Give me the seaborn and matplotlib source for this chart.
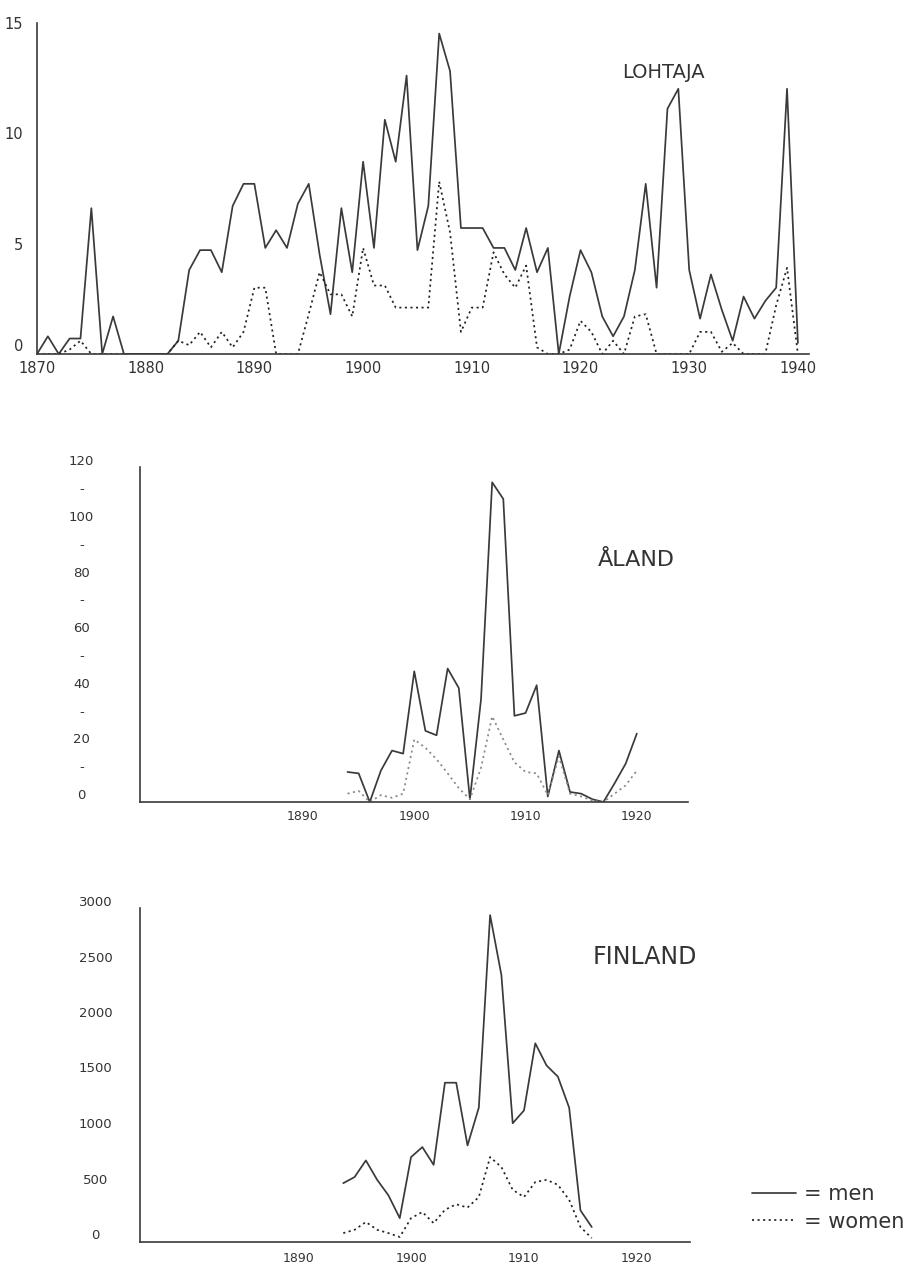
import numpy as np
import pandas as pd
import matplotlib
matplotlib.use("Agg")
import matplotlib.pyplot as plt
import seaborn as sns

# Emigrants per year
lohtaja_years = list(range(1870, 1941))
lohtaja_men = [0, 0.8, 0, 0.7, 0.7, 6.6, 0, 1.7, 0, 0,
               0, 0, 0, 0.6, 3.8, 4.7, 4.7, 3.7, 6.7, 7.7,
               7.7, 4.8, 5.6, 4.8, 6.8, 7.7, 4.5, 1.8, 6.6, 3.7,
               8.7, 4.8, 10.6, 8.7, 12.6, 4.7, 6.7, 14.5, 12.8, 5.7,
               5.7, 5.7, 4.8, 4.8, 3.8, 5.7, 3.7, 4.8, 0, 2.6,
               4.7, 3.7, 1.7, 0.8, 1.7, 3.8, 7.7, 3.0, 11.1, 12.0,
               3.8, 1.6, 3.6, 2.0, 0.6, 2.6, 1.6, 2.4, 3.0, 12.0,
               0.5]
lohtaja_women = [0, 0, 0, 0.2, 0.6, 0, 0, 0, 0, 0,
                 0, 0, 0, 0.6, 0.4, 1.0, 0.3, 1.0, 0.3, 1.0,
                 3.0, 3.0, 0, 0, 0, 1.8, 3.7, 2.7, 2.7, 1.7,
                 4.8, 3.1, 3.1, 2.1, 2.1, 2.1, 2.1, 7.8, 5.5, 1.0,
                 2.1, 2.1, 4.6, 3.6, 3.0, 4.0, 0.3, 0, 0, 0.2,
                 1.5, 1.0, 0, 0.6, 0, 1.7, 1.8, 0, 0, 0,
                 0, 1.0, 1.0, 0.1, 0.5, 0, 0, 0, 2.2, 3.9,
                 0]

aland_years = list(range(1894, 1921))
aland_men = [10.8, 10.3, 0, 11.3, 18.5, 17.4, 47, 25.6, 24, 48,
             41, 1, 37, 115, 109, 31, 32, 42, 2, 18.5,
             3.6, 3, 1, 0, 6.7, 13.8, 24.6]
aland_women = [3, 4, 0, 2.5, 1.5, 3, 22.5, 19.5, 15.4, 10.3,
               5, 1, 12.3, 30.8, 22.5, 14.3, 10.8, 10.3, 2.5, 16.4,
               3, 2, 0.5, 0, 3, 6, 11.3]

finland_years = list(range(1894, 1917))
finland_men = [530, 585, 735, 560, 420, 215, 765, 855, 695, 1435,
               1435, 870, 1210, 2945, 2405, 1070, 1185, 1790, 1590, 1490,
               1210, 285, 135]
finland_women = [80, 110, 180, 110, 80, 45, 215, 270, 170, 290,
                 340, 310, 405, 765, 675, 470, 405, 540, 560, 515,
                 380, 135, 35]

sns.set_style("white")
plt.rcParams["font.family"] = ["DejaVu Sans"]
INK = "#3a3a3a"

W, H = 919, 1270
fig = plt.figure(figsize=(W / 100, H / 100), dpi=100)


def box(left, right, bottom, top):
    """Axes rectangle from pixel edges (top-left origin)."""
    return [left / W, 1 - bottom / H, (right - left) / W, (bottom - top) / H]


def draw(ax, years, men, women, women_color):
    n = len(years)
    df = pd.DataFrame({
        "year": years + years,
        "count": men + women,
        "sex": ["men"] * n + ["women"] * n,
    })
    sns.lineplot(data=df, x="year", y="count", hue="sex", style="sex",
                 palette={"men": INK, "women": women_color},
                 dashes={"men": "", "women": (1.2, 2.0)},
                 estimator=None, sort=False, legend=False,
                 linewidth=1.25, ax=ax)
    sns.despine(ax=ax)
    for side in ("left", "bottom"):
        ax.spines[side].set_color(INK)
        ax.spines[side].set_linewidth(1.2)
    ax.set_xlabel("")
    ax.set_ylabel("")
    ax.set_facecolor("none")


# --- Lohtaja ---
ax1 = fig.add_axes(box(37, 37 + 71.5 * 10.87, 354, 354 - 15.2 * 22.1))
draw(ax1, lohtaja_years, lohtaja_men, lohtaja_women, "#222222")
ax1.set_xlim(1870, 1941.5)
ax1.set_ylim(0, 15.2)
ax1.spines["left"].set_bounds(0, 15)
ax1.spines["bottom"].set_bounds(1870, 1941)
ax1.set_xticks(range(1870, 1941, 10))
ax1.set_yticks([0, 5, 10, 15])
ax1.set_yticks(range(0, 16), minor=True)
ax1.tick_params(axis="both", which="major", direction="inout", length=6,
                width=1, color=INK, labelsize=10.5, labelcolor="#333333")
ax1.tick_params(axis="x", pad=2)
ax1.tick_params(axis="y", which="major", pad=7)
ax1.tick_params(axis="y", which="minor", direction="inout", length=3,
                width=0.8, color=INK)
ax1.get_yticklabels()[0].set_va("bottom")
fig.text(663 / W, 1 - 72 / H, "LOHTAJA", ha="center", va="center",
         fontsize=14, color="#333333")

# --- Åland ---
ax2 = fig.add_axes(box(140, 688, 802, 802 - 122 * 2.78))
draw(ax2, aland_years, aland_men, aland_women, "#8a8a8a")
ax2.set_xlim(1875.35, 1924.6)
ax2.set_ylim(0, 122)
ax2.spines["left"].set_bounds(0, 120.5)
ax2.set_xticks([1890, 1900, 1910, 1920])
ax2.set_yticks(range(0, 121, 20))
ax2.set_yticks(range(10, 120, 20), minor=True)
ax2.set_yticklabels(["-"] * 6, minor=True)
ax2.tick_params(axis="x", direction="inout", length=5, width=1, color=INK,
                labelsize=9, labelcolor="#333333", pad=3)
ax2.tick_params(axis="y", which="both", length=0, pad=42, labelsize=9.5,
                labelcolor="#333333")
for lab in ax2.get_yticklabels() + ax2.get_yticklabels(minor=True):
    lab.set_ha("center")
    lab.set_va("bottom")
fig.text(636 / W, 1 - 560 / H, "ÅLAND", ha="center", va="center",
         fontsize=16, color="#333333")

# --- Finland ---
ax3 = fig.add_axes(box(140, 690, 1242, 1242 - 3100 * 0.111))
draw(ax3, finland_years, finland_men, finland_women, "#222222")
ax3.set_xlim(1876.0, 1924.7)
ax3.set_ylim(0, 3100)
ax3.spines["left"].set_bounds(0, 3009)
ax3.set_xticks([1890, 1900, 1910, 1920])
ax3.set_yticks(range(0, 3001, 500))
ax3.tick_params(axis="x", direction="inout", length=5, width=1, color=INK,
                labelsize=9, labelcolor="#333333", pad=5)
ax3.tick_params(axis="y", length=0, pad=32, labelsize=9.5, labelcolor="#333333")
for lab in ax3.get_yticklabels():
    lab.set_ha("center")
    lab.set_va("bottom")
fig.text(645 / W, 1 - 957 / H, "FINLAND", ha="center", va="center",
         fontsize=17, color="#333333")

# Legend, bottom right
fig.legend(handles=ax3.lines[:2], labels=["= men", "= women"],
           loc="center left", bbox_to_anchor=(742 / W, 1 - 1208 / H),
           frameon=False, fontsize=15, handlelength=2.1, handletextpad=0.4,
           labelspacing=0.35, borderpad=0, labelcolor="#333333")

fig.savefig("out.png", dpi=100, facecolor="white")
